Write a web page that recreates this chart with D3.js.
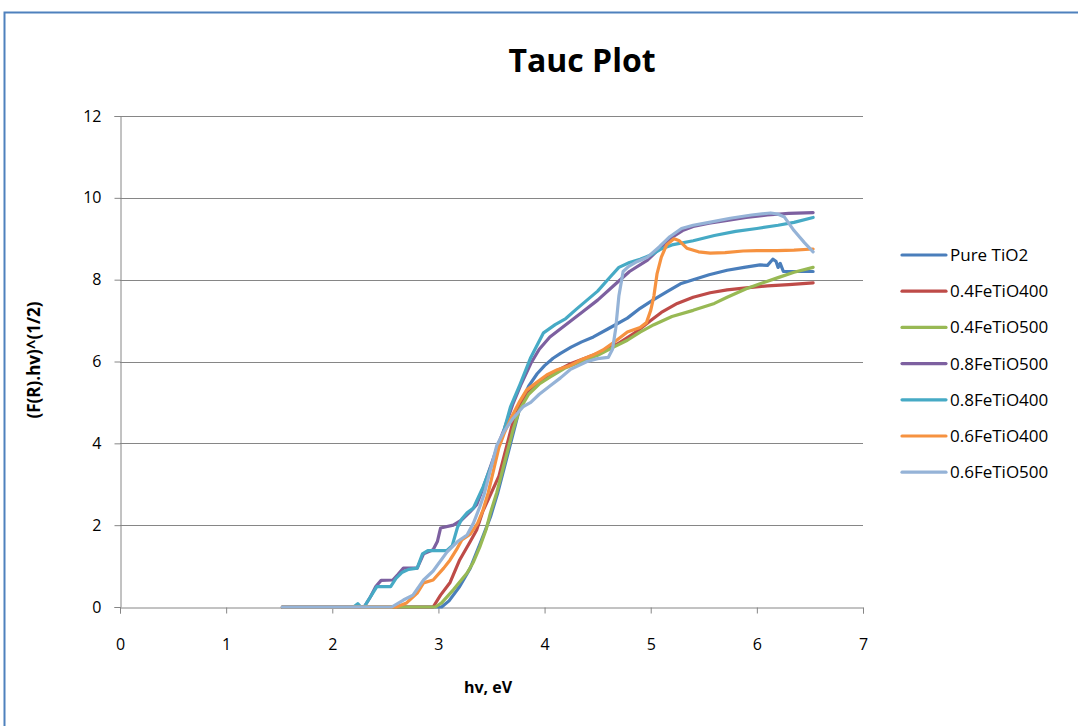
<!DOCTYPE html>
<html>
<head>
<meta charset="utf-8">
<script src="https://cdn.jsdelivr.net/npm/d3@7"></script>
<style>
  html, body { margin: 0; padding: 0; background: #ffffff; }
  svg { display: block; }
  text { font-family: "Open Sans", Lato, sans-serif; }
</style>
</head>
<body>
<svg id="chart" width="1078" height="726"></svg>
<script>
// ---- data ----
const title = "Tauc Plot";
const xTitle = "hv, eV";
const yTitle = "(F(R).hv)^(1/2)";
const xTicks = [0, 1, 2, 3, 4, 5, 6, 7];
const yTicks = [0, 2, 4, 6, 8, 10, 12];

const seriesNames = ["Pure TiO2", "0.4FeTiO400", "0.4FeTiO500", "0.8FeTiO500", "0.8FeTiO400", "0.6FeTiO400", "0.6FeTiO500"];
const seriesColors = ["#4a7ebb", "#be4b48", "#98b954", "#7d60a0", "#46aac5", "#f69240", "#95b3d7"];

const pureTiO2 = [[1.53,0],[3.03,0],[3.1,0.15],[3.2,0.5],[3.3,0.95],[3.4,1.6],[3.49,2.2],[3.56,2.8],[3.62,3.4],[3.68,4.0],[3.73,4.5],[3.78,5.0],[3.85,5.4],[3.93,5.7],[4.0,5.9],[4.08,6.08],[4.15,6.2],[4.25,6.35],[4.35,6.48],[4.46,6.6],[4.6,6.8],[4.78,7.06],[4.9,7.3],[5.02,7.5],[5.15,7.7],[5.28,7.9],[5.4,8.0],[5.55,8.12],[5.72,8.23],[5.88,8.3],[6.03,8.36],[6.1,8.35],[6.15,8.5],[6.18,8.45],[6.2,8.3],[6.22,8.4],[6.25,8.2],[6.35,8.2],[6.53,8.2]];
const fe04_400 = [[1.53,0],[2.95,0],[3.02,0.29],[3.11,0.6],[3.2,1.15],[3.3,1.6],[3.36,1.88],[3.42,2.35],[3.5,2.8],[3.57,3.2],[3.63,3.8],[3.7,4.5],[3.78,5.0],[3.88,5.35],[4.0,5.6],[4.1,5.75],[4.25,5.95],[4.4,6.1],[4.55,6.25],[4.7,6.45],[4.85,6.7],[5.0,7.0],[5.1,7.2],[5.25,7.42],[5.4,7.57],[5.56,7.68],[5.72,7.75],[5.9,7.8],[6.1,7.85],[6.3,7.88],[6.53,7.92]];
const fe04_500 = [[1.53,0],[2.97,0],[3.03,0.1],[3.14,0.42],[3.27,0.83],[3.33,1.1],[3.39,1.47],[3.45,1.9],[3.49,2.3],[3.55,2.8],[3.6,3.3],[3.65,3.8],[3.7,4.3],[3.76,4.8],[3.85,5.2],[3.95,5.45],[4.05,5.62],[4.2,5.85],[4.35,6.0],[4.5,6.15],[4.65,6.35],[4.78,6.52],[4.9,6.72],[5.03,6.9],[5.2,7.1],[5.4,7.25],[5.6,7.42],[5.72,7.57],[5.9,7.78],[6.03,7.9],[6.2,8.05],[6.35,8.18],[6.53,8.3]];
const fe08_500 = [[1.53,0],[2.3,0],[2.36,0.25],[2.41,0.5],[2.46,0.65],[2.57,0.66],[2.62,0.8],[2.67,0.95],[2.8,0.95],[2.86,1.3],[2.95,1.4],[2.99,1.6],[3.02,1.93],[3.14,2.0],[3.22,2.13],[3.3,2.33],[3.36,2.5],[3.42,2.9],[3.5,3.5],[3.56,3.95],[3.62,4.35],[3.7,4.95],[3.78,5.45],[3.87,5.95],[3.95,6.3],[4.05,6.6],[4.2,6.9],[4.35,7.2],[4.5,7.5],[4.65,7.85],[4.8,8.2],[4.97,8.48],[5.1,8.8],[5.18,9.0],[5.3,9.2],[5.4,9.3],[5.55,9.38],[5.72,9.45],[5.9,9.52],[6.1,9.58],[6.3,9.62],[6.53,9.64]];
const fe08_400 = [[1.53,0],[2.2,0],[2.24,0.08],[2.27,0],[2.3,0],[2.36,0.25],[2.42,0.5],[2.55,0.5],[2.6,0.7],[2.66,0.85],[2.72,0.92],[2.8,0.95],[2.85,1.3],[2.9,1.38],[3.08,1.38],[3.13,1.5],[3.18,1.95],[3.22,2.15],[3.27,2.3],[3.33,2.42],[3.42,2.93],[3.52,3.6],[3.6,4.15],[3.68,4.9],[3.77,5.45],[3.87,6.1],[3.99,6.7],[4.1,6.9],[4.2,7.05],[4.3,7.28],[4.4,7.5],[4.5,7.72],[4.62,8.07],[4.7,8.3],[4.8,8.42],[4.9,8.5],[5.0,8.6],[5.1,8.75],[5.2,8.85],[5.4,8.95],[5.6,9.08],[5.8,9.18],[6.0,9.25],[6.2,9.33],[6.35,9.4],[6.53,9.52]];
const fe06_400 = [[1.53,0],[2.6,0],[2.7,0.1],[2.8,0.34],[2.86,0.59],[2.95,0.66],[3.05,0.95],[3.11,1.15],[3.17,1.4],[3.22,1.64],[3.3,1.78],[3.37,2.05],[3.42,2.37],[3.47,2.8],[3.52,3.35],[3.57,3.9],[3.62,4.25],[3.69,4.65],[3.76,5.0],[3.83,5.3],[3.93,5.5],[4.02,5.67],[4.12,5.8],[4.24,5.9],[4.35,6.05],[4.45,6.15],[4.55,6.28],[4.67,6.5],[4.78,6.72],[4.9,6.83],[4.96,6.95],[5.0,7.25],[5.03,7.6],[5.06,8.15],[5.1,8.55],[5.15,8.85],[5.22,9.0],[5.27,8.95],[5.34,8.77],[5.45,8.68],[5.56,8.65],[5.7,8.66],[5.87,8.7],[6.0,8.71],[6.19,8.71],[6.35,8.72],[6.53,8.75]];
const fe06_500 = [[1.53,0],[2.56,0],[2.67,0.17],[2.76,0.29],[2.86,0.66],[2.95,0.88],[3.08,1.34],[3.18,1.6],[3.27,1.76],[3.33,2.05],[3.39,2.45],[3.43,2.75],[3.49,3.35],[3.55,3.95],[3.62,4.3],[3.7,4.6],[3.8,4.9],[3.87,5.0],[3.95,5.2],[4.05,5.4],[4.15,5.6],[4.24,5.8],[4.4,6.0],[4.5,6.07],[4.6,6.1],[4.64,6.3],[4.67,6.8],[4.7,7.6],[4.74,8.2],[4.79,8.32],[4.87,8.44],[4.97,8.55],[5.08,8.8],[5.18,9.05],[5.29,9.25],[5.4,9.33],[5.55,9.4],[5.75,9.5],[5.95,9.58],[6.13,9.63],[6.2,9.6],[6.26,9.53],[6.35,9.2],[6.45,8.9],[6.53,8.68]];

const seriesData = [pureTiO2, fe04_400, fe04_500, fe08_500, fe08_400, fe06_400, fe06_500];

// ---- layout ----
const svg = d3.select("#chart");
const W = 1078, H = 726;
const plot = { left: 120, right: 863, top: 116, bottom: 607 };
const gridColor = "#868686";

// chart frame
svg.append("rect")
  .attr("x", 4.5).attr("y", 12.5)
  .attr("width", W + 10).attr("height", H + 10)
  .attr("fill", "#ffffff")
  .attr("stroke", "#4f81bd").attr("stroke-width", 2);

const x = d3.scaleLinear().domain([0, 7]).range([plot.left, plot.right]);
const y = d3.scaleLinear().domain([0, 12]).range([plot.bottom, plot.top]);

// gridlines
svg.append("g").selectAll("line")
  .data(yTicks.filter(d => d !== 0))
  .join("line")
  .attr("x1", plot.left).attr("x2", plot.right)
  .attr("y1", d => Math.round(y(d)) + 0.5).attr("y2", d => Math.round(y(d)) + 0.5)
  .attr("stroke", gridColor).attr("stroke-width", 1);

// axes
const xAxis = d3.axisBottom(x).tickValues(xTicks).tickFormat(d3.format("d")).tickSize(6).tickPadding(25);
const yAxis = d3.axisLeft(y).tickValues(yTicks).tickFormat(d3.format("d")).tickSize(6).tickPadding(13);

const gx = svg.append("g").attr("transform", `translate(0,${Math.round(plot.bottom) + 0.5})`).call(xAxis);
const gy = svg.append("g").attr("transform", `translate(${plot.left + 0.5},0)`).call(yAxis);
[gx, gy].forEach(g => {
  g.select(".domain").attr("stroke", gridColor);
  g.selectAll(".tick line").attr("stroke", gridColor);
  g.selectAll(".tick text").attr("fill", "#000").style("font-size", "16px").style("font-family", "'Open Sans', sans-serif");
});

// lines
const line = d3.line().x(d => x(d[0])).y(d => y(d[1])).curve(d3.curveLinear);
svg.append("g").selectAll("path")
  .data(seriesData)
  .join("path")
  .attr("d", d => line(d))
  .attr("fill", "none")
  .attr("stroke", (d, i) => seriesColors[i])
  .attr("stroke-width", 3.2)
  .attr("stroke-linejoin", "round")
  .attr("stroke-linecap", "round");

// titles
svg.append("text")
  .attr("x", 582).attr("y", 72)
  .attr("text-anchor", "middle")
  .style("font-size", "32px").style("font-weight", "bold")
  .text(title);

svg.append("text")
  .attr("x", 488).attr("y", 693)
  .attr("text-anchor", "middle")
  .style("font-size", "16px").style("font-weight", "bold")
  .text(xTitle);

svg.append("text")
  .attr("transform", "translate(40,360) rotate(-90)")
  .attr("text-anchor", "middle")
  .style("font-size", "17px").style("font-weight", "bold")
  .text(yTitle);

// legend
const legend = svg.append("g");
const legY0 = 255, legStep = 36.2;
seriesNames.forEach((name, i) => {
  const ly = legY0 + i * legStep;
  legend.append("line")
    .attr("x1", 902).attr("x2", 946)
    .attr("y1", ly).attr("y2", ly)
    .attr("stroke", seriesColors[i]).attr("stroke-width", 3.2)
    .attr("stroke-linecap", "round");
  legend.append("text")
    .attr("x", 950).attr("y", ly)
    .attr("dy", "0.35em")
    .style("font-size", "17px")
    .text(name);
});
</script>
</body>
</html>
